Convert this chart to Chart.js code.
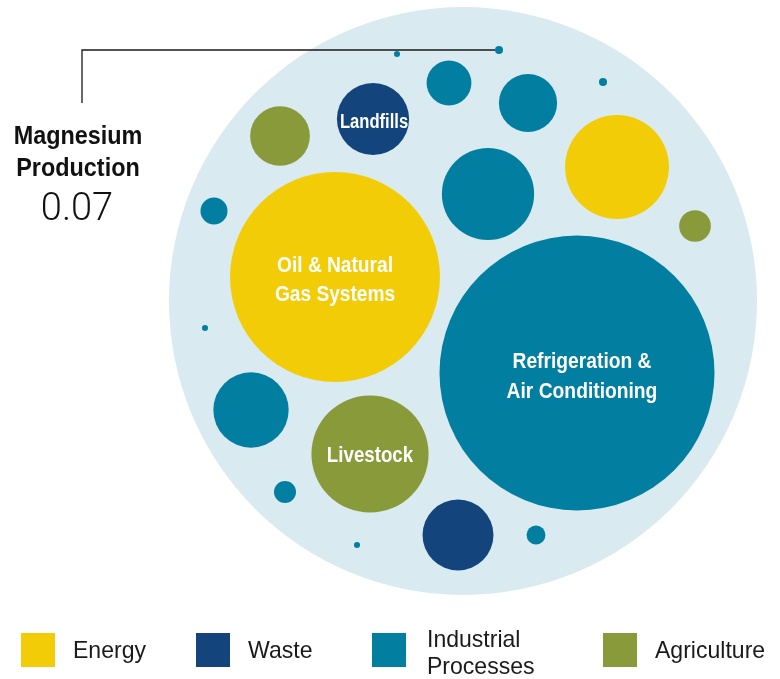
<!DOCTYPE html>
<html>
<head>
<meta charset="utf-8">
<script src="https://cdn.jsdelivr.net/npm/chart.js@4/dist/chart.umd.min.js"></script>
<style>
  html, body { margin: 0; padding: 0; background: #fff; }
  #wrap { width: 780px; height: 679px; }
</style>
</head>
<body>
<div id="wrap"><canvas id="bubbleChart" width="780" height="679"></canvas></div>
<script>
// one entry per emission source; only the big ones carry a name
const sources = [
  'Refrigeration & Air Conditioning', 'Oil & Natural Gas Systems', 'Livestock', 'Landfills',
  '', '', '', '', '', '', '', '', '', '', '',
  'Magnesium Production', '', '', '', ''
];
const sectors = [
  'Industrial Processes', 'Energy', 'Agriculture', 'Waste',
  'Energy', 'Industrial Processes', 'Industrial Processes', 'Waste', 'Agriculture',
  'Industrial Processes', 'Industrial Processes', 'Agriculture', 'Industrial Processes',
  'Industrial Processes', 'Industrial Processes',
  'Industrial Processes', 'Industrial Processes', 'Industrial Processes', 'Industrial Processes', 'Industrial Processes'
];
const emissions = [
  82.7, 48.2, 15.0, 5.7,
  11.8, 9.3, 6.2, 5.5, 3.9,
  3.7, 2.2, 1.1, 0.8,
  0.53, 0.39,
  0.07, 0.07, 0.04, 0.04, 0.04
];
// packed layout of the bubble centres
const centreX = [577, 335, 370, 373, 617, 488, 251, 458, 280, 528, 449, 695, 214, 285, 536, 499, 603, 397, 205, 357];
const centreY = [373, 277, 454, 119, 167, 194, 410, 535, 136, 103, 83, 226, 211, 492, 535, 50, 82, 54, 328, 545];

const legendSectors = ['Energy', 'Waste', 'Industrial Processes', 'Agriculture'];

const sectorColours = {
  'Energy': '#f2cd07',
  'Waste': '#13447c',
  'Industrial Processes': '#027ea1',
  'Agriculture': '#889a39'
};
const pxPerRootUnit = 15.12;   // bubble area proportional to emissions
const fontFamily = "'Liberation Sans', Arial, sans-serif";

const bubbles = emissions.map((v, i) => ({
  x: centreX[i], y: centreY[i], r: pxPerRootUnit * Math.sqrt(v)
}));

function squeezedText(ctx, text, x, y, squeeze) {
  ctx.save();
  ctx.translate(x, y);
  ctx.scale(squeeze, 1);
  ctx.fillText(text, 0, 0);
  ctx.restore();
}

// white names written inside the large bubbles
const bubbleLabels = {
  0: { lines: ['Refrigeration &', 'Air Conditioning'], dx: 5, dy: [-5, 25], size: 22, squeeze: 0.875 },
  1: { lines: ['Oil & Natural', 'Gas Systems'], dx: 0, dy: [-5, 24], size: 22, squeeze: 0.87 },
  2: { lines: ['Livestock'], dx: 0, dy: [8], size: 22, squeeze: 0.85 },
  3: { lines: ['Landfills'], dx: 1, dy: [9], size: 20, squeeze: 0.83 }
};

const labelPlugin = {
  id: 'bubbleLabels',
  afterDatasetsDraw(chart) {
    const ctx = chart.ctx;
    const meta = chart.getDatasetMeta(0);
    ctx.save();
    ctx.fillStyle = '#ffffff';
    ctx.textAlign = 'center';
    ctx.textBaseline = 'alphabetic';
    Object.keys(bubbleLabels).forEach(k => {
      const lab = bubbleLabels[k];
      const el = meta.data[k];
      ctx.font = 'bold ' + lab.size + 'px ' + fontFamily;
      lab.lines.forEach((line, j) => {
        squeezedText(ctx, line, el.x + lab.dx, el.y + lab.dy[j], lab.squeeze);
      });
    });
    ctx.restore();
  }
};

// leader line and value for the smallest named source
const calloutPlugin = {
  id: 'callout',
  afterDatasetsDraw(chart) {
    const ctx = chart.ctx;
    const idx = sources.indexOf('Magnesium Production');
    const el = chart.getDatasetMeta(0).data[idx];
    ctx.save();
    ctx.strokeStyle = '#1a1a1a';
    ctx.lineWidth = 1.3;
    ctx.beginPath();
    ctx.moveTo(el.x - 4, el.y);
    ctx.lineTo(82, el.y);
    ctx.lineTo(82, 103);
    ctx.stroke();

    ctx.fillStyle = '#111111';
    ctx.textAlign = 'center';
    ctx.font = 'bold 26px ' + fontFamily;
    squeezedText(ctx, 'Magnesium', 78, 144, 0.9);
    squeezedText(ctx, 'Production', 78, 176, 0.9);
    ctx.font = '300 38px Roboto, ' + fontFamily;
    ctx.fillText(emissions[idx].toFixed(2), 77, 220);
    ctx.restore();
  }
};

const legendPlugin = {
  id: 'sectorLegend',
  afterDraw(chart) {
    const ctx = chart.ctx;
    const boxX = [21, 196, 372, 603];
    ctx.save();
    ctx.font = '24px ' + fontFamily;
    ctx.textAlign = 'left';
    legendSectors.forEach((s, i) => {
      ctx.fillStyle = sectorColours[s];
      ctx.fillRect(boxX[i], 633, 34, 34);
      ctx.fillStyle = '#1a1a1a';
      const words = s.split(' ');
      if (words.length > 1) {
        squeezedText(ctx, words[0], boxX[i] + 55, 647, 0.96);
        squeezedText(ctx, words[1], boxX[i] + 55, 674, 0.96);
      } else {
        squeezedText(ctx, s, boxX[i] + 52, 658, 0.96);
      }
    });
    ctx.restore();
  }
};

new Chart(document.getElementById('bubbleChart'), {
  type: 'bubble',
  data: {
    datasets: [
      {
        label: 'Sources',
        data: bubbles,
        backgroundColor: sectors.map(s => sectorColours[s]),
        borderWidth: 0,
        order: 1,
        clip: false
      },
      {
        label: 'All sources',
        data: [{ x: 463, y: 301, r: 294 }],
        backgroundColor: '#d9eaf1',
        borderWidth: 0,
        order: 2,
        clip: false
      }
    ]
  },
  options: {
    responsive: false,
    animation: false,
    events: [],
    layout: { padding: 0, autoPadding: false },
    scales: {
      x: { type: 'linear', min: 0, max: 780, display: false },
      y: { type: 'linear', min: 0, max: 679, reverse: true, display: false }
    },
    plugins: {
      legend: { display: false },
      tooltip: { enabled: false }
    }
  },
  plugins: [labelPlugin, calloutPlugin, legendPlugin]
});
</script>
</body>
</html>
